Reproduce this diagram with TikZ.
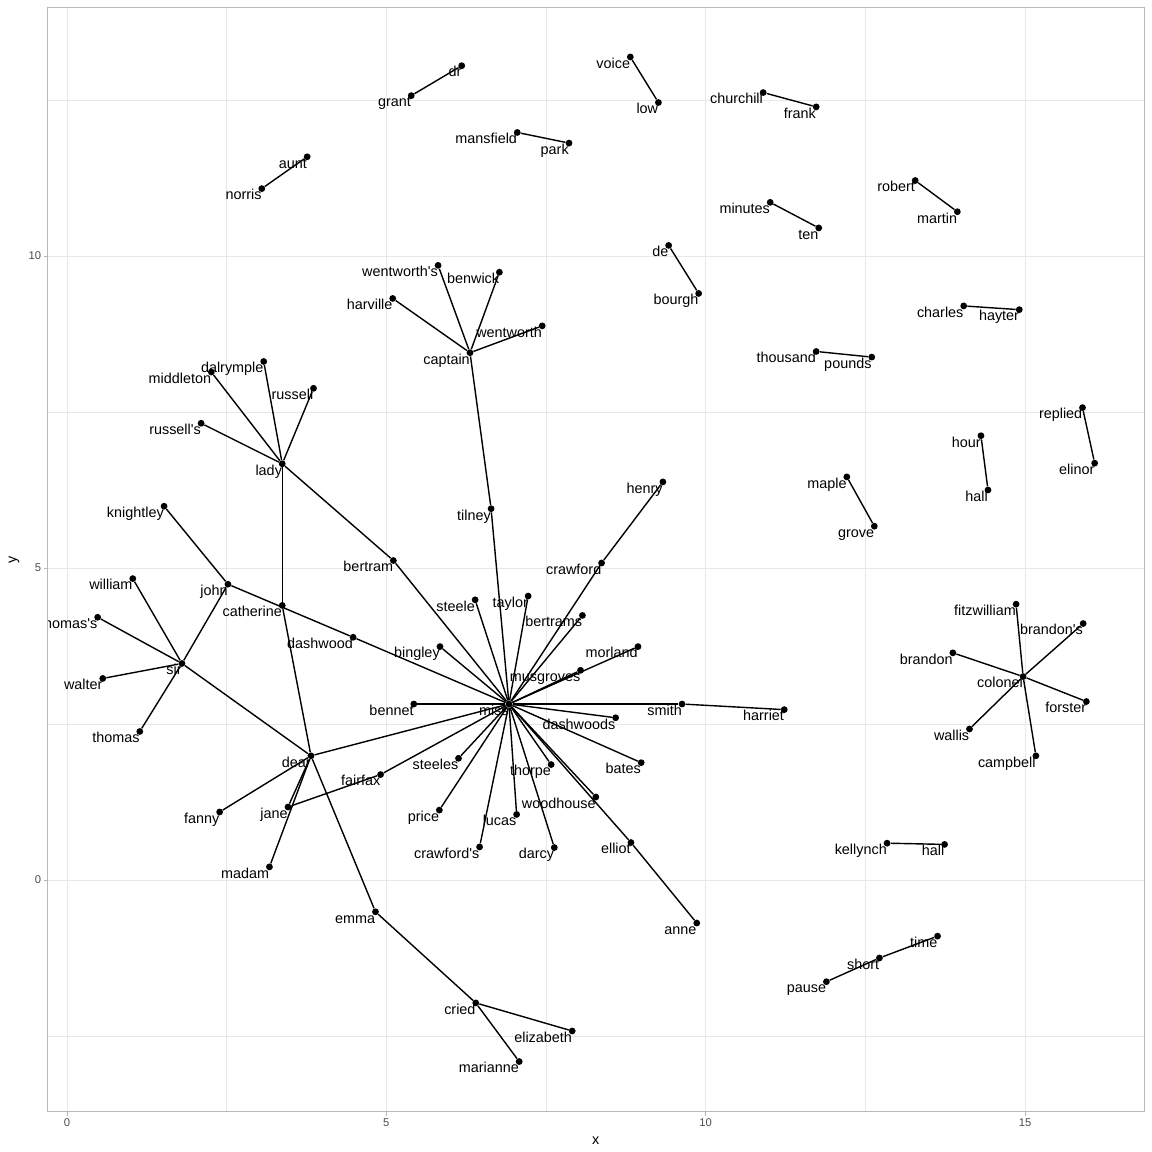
\documentclass[tikz,border=0pt]{standalone}
\usepackage{fontspec}
\setmainfont{Liberation Sans}
\definecolor{gridline}{gray}{0.91}
\definecolor{frameline}{gray}{0.72}
\definecolor{ticktext}{gray}{0.30}
\tikzstyle{node_point} = [circle, fill=black, inner sep=0pt, minimum size=0.17cm]
\tikzstyle{node_word} = [anchor=base east, inner sep=0pt, yshift=-0.2825cm, font=\fontsize{10.24}{12}\selectfont]
\tikzstyle{edge_normal} = [line width=1pt]
\tikzstyle{grid_major} = [draw=gridline, line width=0.55pt]
\tikzstyle{grid_minor} = [draw=gridline, line width=0.3pt]
\tikzstyle{tick_mark} = [draw=frameline, line width=0.5pt]
\tikzstyle{tick_text} = [inner sep=0pt, text=ticktext, font=\fontsize{8}{10}\selectfont]
\tikzstyle{axis_title} = [inner sep=0pt, font=\fontsize{10.24}{12}\selectfont]

\begin{document}
\begin{tikzpicture}[x=1.5968cm, y=1.56cm]
\fill[white] (-1.049,-4.359) rectangle (16.988,14.103);
\useasboundingbox (-1.049,-4.359) rectangle (16.988,14.103);
% panel grid
\foreach \gx in {2.5,7.5,12.5} \draw[grid_minor] (\gx,-3.717) -- (\gx,13.99);
\foreach \gy in {-2.5,2.5,7.5,12.5} \draw[grid_minor] (-0.30,\gy) -- (16.87,\gy);
\foreach \gx in {0,5,10,15} \draw[grid_major] (\gx,-3.717) -- (\gx,13.99);
\foreach \gy in {0,5,10} \draw[grid_major] (-0.30,\gy) -- (16.87,\gy);

\begin{scope}
\clip (-0.30,-3.717) rectangle (16.87,13.99);
% big component
\node (captain) at (6.31,8.45) [node_point] {};
\node (wentworthsq) at (5.81,9.85) [node_point] {};
\node (benwick) at (6.77,9.74) [node_point] {};
\node (harville) at (5.10,9.32) [node_point] {};
\node (wentworth) at (7.44,8.88) [node_point] {};
\node (tilney) at (6.64,5.95) [node_point] {};
\node (lady) at (3.37,6.67) [node_point] {};
\node (dalrymple) at (3.08,8.31) [node_point] {};
\node (middleton) at (2.26,8.14) [node_point] {};
\node (russell) at (3.86,7.88) [node_point] {};
\node (russellsq) at (2.10,7.32) [node_point] {};
\node (catherine) at (3.37,4.40) [node_point] {};
\node (bertram) at (5.11,5.12) [node_point] {};
\node (knightley) at (1.52,5.99) [node_point] {};
\node (john) at (2.52,4.74) [node_point] {};
\node (william) at (1.03,4.83) [node_point] {};
\node (thomassq) at (0.48,4.21) [node_point] {};
\node (sir) at (1.80,3.47) [node_point] {};
\node (walter) at (0.56,3.23) [node_point] {};
\node (thomas) at (1.14,2.38) [node_point] {};
\node (dashwood) at (4.48,3.89) [node_point] {};
\node (dear) at (3.82,1.99) [node_point] {};
\node (fanny) at (2.39,1.09) [node_point] {};
\node (jane) at (3.46,1.17) [node_point] {};
\node (madam) at (3.17,0.21) [node_point] {};
\node (emma) at (4.83,-0.51) [node_point] {};
\node (cried) at (6.40,-1.97) [node_point] {};
\node (elizabeth) at (7.91,-2.42) [node_point] {};
\node (marianne) at (7.08,-2.91) [node_point] {};
\node (miss) at (6.92,2.82) [node_point] {};
\node (bennet) at (5.43,2.82) [node_point] {};
\node (steele) at (6.39,4.49) [node_point] {};
\node (taylor) at (7.22,4.55) [node_point] {};
\node (bertrams) at (8.07,4.24) [node_point] {};
\node (bingley) at (5.84,3.74) [node_point] {};
\node (morland) at (8.94,3.74) [node_point] {};
\node (musgroves) at (8.04,3.36) [node_point] {};
\node (smith) at (9.63,2.82) [node_point] {};
\node (harriet) at (11.23,2.73) [node_point] {};
\node (dashwoods) at (8.59,2.60) [node_point] {};
\node (steeles) at (6.13,1.95) [node_point] {};
\node (bates) at (8.99,1.88) [node_point] {};
\node (thorpe) at (7.58,1.85) [node_point] {};
\node (fairfax) at (4.91,1.69) [node_point] {};
\node (woodhouse) at (8.28,1.33) [node_point] {};
\node (price) at (5.83,1.12) [node_point] {};
\node (lucas) at (7.04,1.05) [node_point] {};
\node (elliot) at (8.83,0.60) [node_point] {};
\node (anne) at (9.86,-0.69) [node_point] {};
\node (crawfordsq) at (6.46,0.53) [node_point] {};
\node (darcy) at (7.63,0.52) [node_point] {};
\node (crawford) at (8.37,5.08) [node_point] {};
\node (henry) at (9.33,6.38) [node_point] {};
% small components
\node (dr) at (6.18,13.05) [node_point] {};
\node (grant) at (5.39,12.57) [node_point] {};
\node (voice) at (8.82,13.19) [node_point] {};
\node (low) at (9.26,12.46) [node_point] {};
\node (mansfield) at (7.05,11.98) [node_point] {};
\node (park) at (7.86,11.81) [node_point] {};
\node (aunt) at (3.76,11.59) [node_point] {};
\node (norris) at (3.05,11.08) [node_point] {};
\node (churchill) at (10.90,12.62) [node_point] {};
\node (frank) at (11.73,12.39) [node_point] {};
\node (minutes) at (11.01,10.86) [node_point] {};
\node (ten) at (11.77,10.45) [node_point] {};
\node (robert) at (13.28,11.21) [node_point] {};
\node (martin) at (13.94,10.71) [node_point] {};
\node (de) at (9.42,10.17) [node_point] {};
\node (bourgh) at (9.89,9.40) [node_point] {};
\node (charles) at (14.04,9.20) [node_point] {};
\node (hayter) at (14.91,9.14) [node_point] {};
\node (thousand) at (11.73,8.47) [node_point] {};
\node (pounds) at (12.60,8.38) [node_point] {};
\node (replied) at (15.90,7.57) [node_point] {};
\node (elinor) at (16.09,6.68) [node_point] {};
\node (hour) at (14.31,7.12) [node_point] {};
\node (halla) at (14.42,6.25) [node_point] {};
\node (maple) at (12.21,6.46) [node_point] {};
\node (grove) at (12.64,5.67) [node_point] {};
\node (colonel) at (14.97,3.26) [node_point] {};
\node (fitzwilliam) at (14.86,4.42) [node_point] {};
\node (brandonsq) at (15.91,4.11) [node_point] {};
\node (brandon) at (13.87,3.64) [node_point] {};
\node (forster) at (15.96,2.86) [node_point] {};
\node (wallis) at (14.13,2.42) [node_point] {};
\node (campbell) at (15.17,1.99) [node_point] {};
\node (kellynch) at (12.84,0.59) [node_point] {};
\node (hallb) at (13.74,0.57) [node_point] {};
\node (time) at (13.63,-0.90) [node_point] {};
\node (short) at (12.72,-1.25) [node_point] {};
\node (pause) at (11.89,-1.63) [node_point] {};

% edges
\foreach \w in {wentworthsq,benwick,harville,wentworth,tilney}
  \draw[edge_normal] (captain)--(\w);
\foreach \w in {dalrymple,middleton,russell,russellsq,catherine,bertram}
  \draw[edge_normal] (lady)--(\w);
\foreach \w in {william,thomassq,walter,thomas,john,dear}
  \draw[edge_normal] (sir)--(\w);
\foreach \w in {fanny,jane,madam,emma,catherine,miss}
  \draw[edge_normal] (dear)--(\w);
\foreach \w in {tilney,bertram,dashwood,fairfax,bennet,steele,taylor,bertrams,bingley,morland,musgroves,smith,dashwoods,steeles,bates,thorpe,woodhouse,price,lucas,elliot,crawfordsq,darcy,crawford}
  \draw[edge_normal] (miss)--(\w);
\foreach \w in {fitzwilliam,brandonsq,brandon,forster,wallis,campbell}
  \draw[edge_normal] (colonel)--(\w);
\draw[edge_normal] (knightley)--(john)--(dashwood);
\draw[edge_normal] (jane)--(fairfax);
\draw[edge_normal] (emma)--(cried)--(elizabeth);
\draw[edge_normal] (cried)--(marianne);
\draw[edge_normal] (smith)--(harriet);
\draw[edge_normal] (elliot)--(anne);
\draw[edge_normal] (crawford)--(henry);
\draw[edge_normal] (dr)--(grant);
\draw[edge_normal] (voice)--(low);
\draw[edge_normal] (mansfield)--(park);
\draw[edge_normal] (aunt)--(norris);
\draw[edge_normal] (churchill)--(frank);
\draw[edge_normal] (minutes)--(ten);
\draw[edge_normal] (robert)--(martin);
\draw[edge_normal] (de)--(bourgh);
\draw[edge_normal] (charles)--(hayter);
\draw[edge_normal] (thousand)--(pounds);
\draw[edge_normal] (replied)--(elinor);
\draw[edge_normal] (hour)--(halla);
\draw[edge_normal] (maple)--(grove);
\draw[edge_normal] (kellynch)--(hallb);
\draw[edge_normal] (pause)--(short)--(time);

% words
\foreach \n/\t in {captain/captain, wentworthsq/wentworth\textquotesingle s, benwick/benwick,
  harville/harville, wentworth/wentworth, tilney/tilney, lady/lady, dalrymple/dalrymple,
  middleton/middleton, russell/russell, russellsq/russell\textquotesingle s, catherine/catherine,
  bertram/bertram, knightley/knightley, john/john, william/william, thomassq/thomas\textquotesingle s,
  sir/sir, walter/walter, thomas/thomas, dashwood/dashwood, dear/dear, fanny/fanny, jane/jane,
  madam/madam, emma/emma, cried/cried, elizabeth/elizabeth, marianne/marianne, miss/miss,
  bennet/bennet, steele/steele, taylor/taylor, bertrams/bertrams, bingley/bingley,
  morland/morland, musgroves/musgroves, smith/smith, harriet/harriet, dashwoods/dashwoods,
  steeles/steeles, bates/bates, thorpe/thorpe, fairfax/fairfax, woodhouse/woodhouse,
  price/price, lucas/lucas, elliot/elliot, anne/anne, crawfordsq/crawford\textquotesingle s,
  darcy/darcy, crawford/crawford, henry/henry, dr/dr, grant/grant, voice/voice, low/low,
  mansfield/mansfield, park/park, aunt/aunt, norris/norris, churchill/churchill, frank/frank,
  minutes/minutes, ten/ten, robert/robert, martin/martin, de/de, bourgh/bourgh,
  charles/charles, hayter/hayter, thousand/thousand, pounds/pounds, replied/replied,
  elinor/elinor, hour/hour, halla/hall, maple/maple, grove/grove, colonel/colonel,
  fitzwilliam/fitzwilliam, brandonsq/brandon\textquotesingle s, brandon/brandon,
  forster/forster, wallis/wallis, campbell/campbell, kellynch/kellynch, hallb/hall,
  time/time, short/short, pause/pause}
  \node[node_word] (\n-t) at (\n) {\t};
\end{scope}

% frame and axes
\draw[draw=frameline, line width=0.7pt] (-0.30,-3.717) rectangle (16.87,13.99);
\foreach \gx in {0,5,10,15} {
  \draw[tick_mark] (\gx,-3.717) -- (\gx,-3.775);
  \node[tick_text, anchor=base] (xtick\gx) at (\gx,-3.953) {\gx};
}
\foreach \gy in {0,5,10} {
  \draw[tick_mark] (-0.30,\gy) -- (-0.356,\gy);
  \node[tick_text, anchor=east] (ytick\gy) at (-0.399,\gy) {\gy};
}
\node[axis_title, anchor=base] (xlab) at (8.28,-4.247) {x};
\node[axis_title, anchor=base, rotate=90] (ylab) at (-0.794,5.136) {y};
\end{tikzpicture}
\end{document}
